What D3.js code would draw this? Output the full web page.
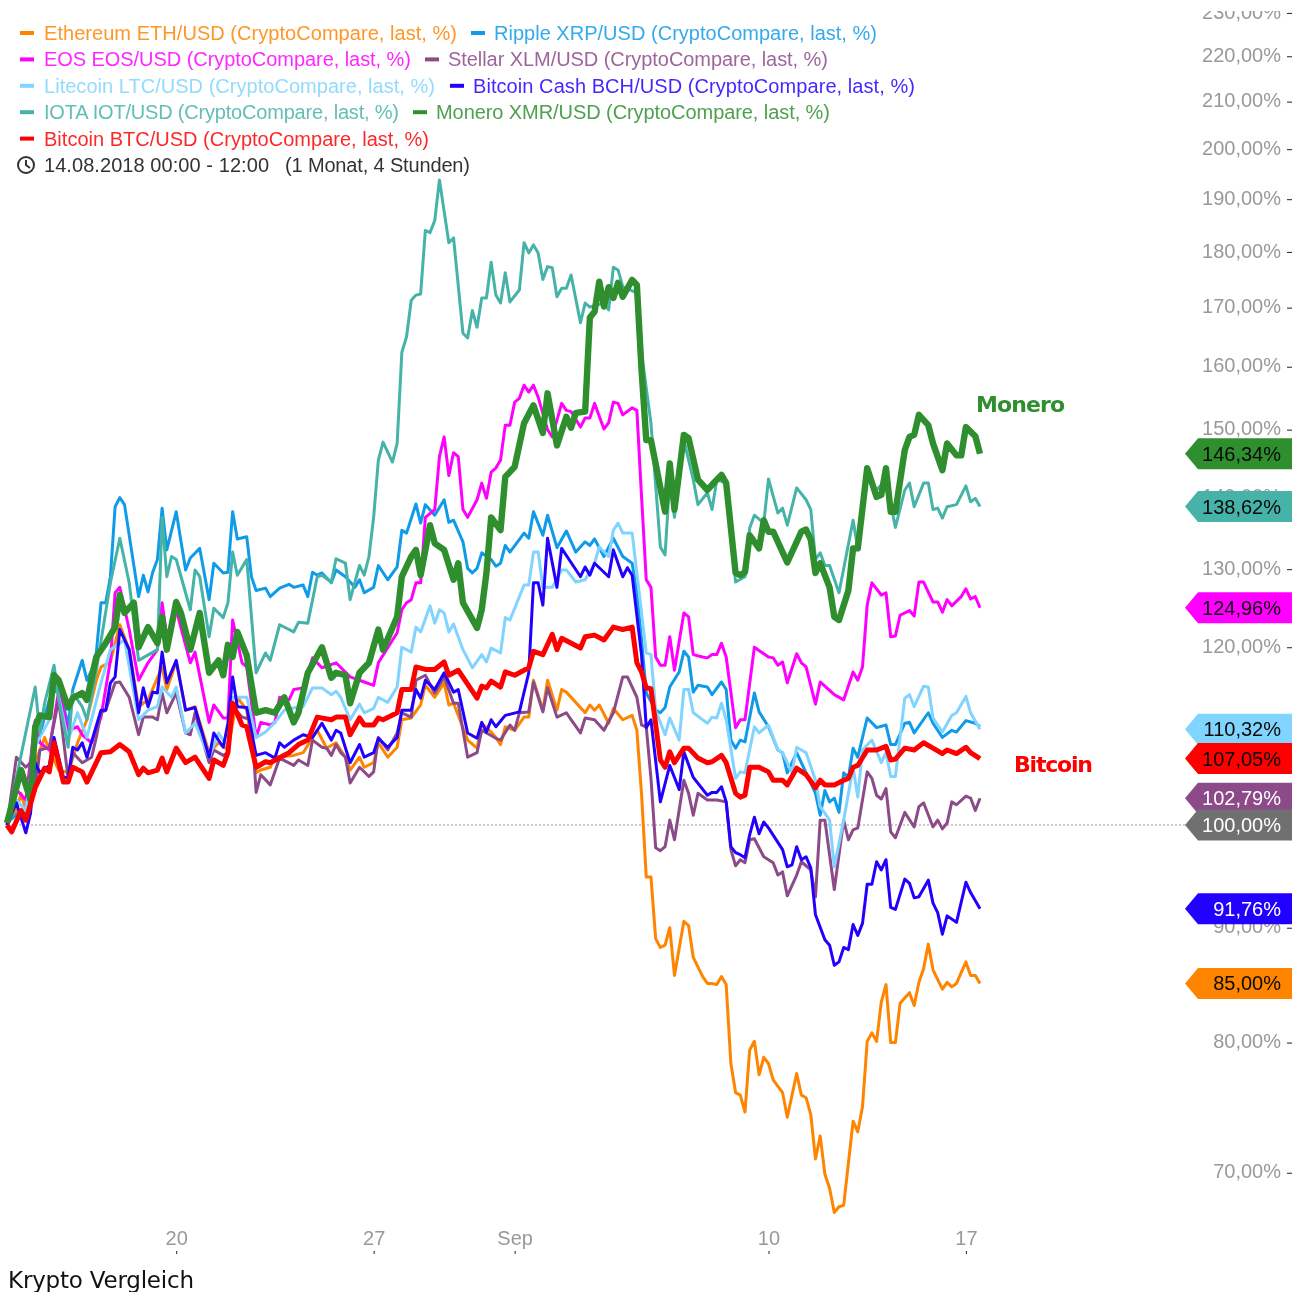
<!DOCTYPE html>
<html>
<head>
<meta charset="utf-8">
<script src="https://cdnjs.cloudflare.com/ajax/libs/d3/7.8.5/d3.min.js"></script>
<style>
  html, body { margin: 0; padding: 0; background: #fff; }
  svg { display: block; font-family: "Liberation Sans", Arial, sans-serif; filter: blur(0.45px); }
</style>
</head>
<body>
<div id="chart"></div>
<script>
// every point is [sample number, percent]; one sample = 4 hours from 14.08.2018 00:00
var ethereum = [[0,100],[2,101.5],[3,103.3],[4,101.5],[6,106.6],[8,109.4],[9,108.0],[11,105.8],[13,105.5],[15,108.8],[17,111.4],[19,116.0],[20,117.6],[22,118.2],[24,122.8],[26,119.7],[28,112.9],[30,113.7],[33,117.6],[34,114.9],[36,118.2],[38,112.5],[40,112.9],[43,107.7],[45,108.8],[47,108.0],[49,114.0],[51,112.5],[53,105.5],[54,105.8],[56,106.1],[57,107.2],[61,107.4],[63,107.7],[66,110.2],[68,108.2],[70,108.8],[72,107.2],[73,105.8],[75,107.2],[76,106.1],[78,106.6],[79,108.8],[81,107.2],[83,108.3],[84,111.4],[86,111.6],[88,113.1],[89,115.4],[91,114.0],[93,115.7],[94,113.1],[95,113.3],[98,109.1],[100,108.2],[101,111.0],[103,110.0],[104,109.4],[105,108.6],[106,110.6],[108,110.2],[110,111.7],[111,111.7],[112,116.0],[114,112.5],[115,116.0],[117,112.5],[118,114.9],[119,114.6],[123,112.2],[124,113.1],[125,112.5],[126,113.1],[128,111.0],[129,112.7],[131,111.4],[133,111.9],[134,110.2],[135,103.2],[136,94.8],[137,94.8],[138,89.0],[139,88.2],[140,88.4],[141,90.0],[142,85.7],[144,90.6],[145,90.2],[146,87.3],[148,85.6],[149,85.0],[150,85.0],[151,84.9],[152,85.6],[153,84.9],[154,78.3],[155,76.0],[156,75.8],[157,74.5],[158,79.4],[159,80.1],[160,77.4],[161,78.8],[162,78.3],[163,77.0],[165,76.0],[166,74.1],[168,77.5],[169,75.8],[170,75.6],[171,74.3],[172,71.0],[173,72.7],[174,69.9],[175,68.9],[176,67.2],[177,67.6],[178,67.7],[180,73.8],[181,73.0],[182,74.9],[183,80.1],[184,80.8],[185,80.1],[186,83.4],[187,84.9],[188,80.0],[189,80.0],[190,83.3],[192,84.2],[193,83.1],[194,85.1],[195,86.3],[196,88.5],[197,86.2],[199,84.5],[200,85.1],[201,84.7],[202,85.0],[204,86.9],[205,85.7],[206,85.7],[207,85.0]];

var ripple = [[0,100.2],[3,101.5],[4,101],[6,110.8],[7,109.7],[9,113.7],[11,115.4],[13,110.8],[14,114.9],[16,118.4],[17,116.0],[18,117.2],[19,119.3],[20,125.6],[21,125.6],[22,129.0],[23,138.6],[24,139.9],[25,138.9],[28,126.4],[29,129.2],[30,127.0],[31,129.6],[32,131.3],[33,138.4],[34,132.6],[36,137.9],[38,129.9],[39,131.5],[41,132.8],[43,126.0],[44,130.8],[46,129.5],[47,129.6],[48,137.9],[49,134.1],[51,134.4],[52,129.0],[53,127.2],[55,127.5],[56,126.4],[58,127.5],[60,128.0],[61,127.6],[63,127.9],[64,126.4],[65,129.6],[66,129.2],[67,129.5],[69,128.2],[70,129.9],[72,129.0],[74,127.6],[75,128.6],[76,126.9],[78,127.6],[79,130.5],[81,128.6],[83,130.3],[84,135.3],[85,134.9],[87,139.0],[88,136.3],[89,138.9],[91,137.4],[93,139.6],[94,136.4],[95,136.7],[97,133.7],[98,130.1],[99,129.5],[100,130.1],[101,132.2],[103,131.3],[104,130.4],[105,130.8],[106,133.2],[107,132.3],[110,134.9],[111,134.2],[112,137.9],[114,134.6],[115,137.4],[117,132.9],[119,135.2],[121,132.3],[123,133.7],[124,133.2],[125,134.1],[127,131.7],[129,134.2],[131,131.7],[133,130.8],[134,126.9],[135,120.9],[136,114.5],[138,112.5],[139,112.2],[140,112.8],[141,115.2],[143,117.0],[144,119.5],[145,118.8],[146,114.6],[147,115.4],[149,115.2],[150,114.3],[152,115.8],[153,114.9],[154,109.1],[155,108.2],[156,109.1],[157,108.9],[159,114.5],[160,112.3],[162,110.6],[164,108.0],[165,107.7],[166,105.5],[168,107.7],[170,105.5],[172,103.3],[173,101.0],[174,103.6],[175,102.4],[176,102.8],[177,101.3],[178,105.5],[179,105.0],[180,108.2],[181,107.2],[183,111.6],[185,110.5],[187,110.8],[188,108.6],[189,108.6],[191,111.0],[192,111.1],[193,109.9],[196,112.2],[197,111.0],[199,109.4],[201,110.2],[202,110.0],[204,111.3],[206,111.0],[207,110.6]];

var eos = [[0,100],[2,103.7],[4,102.6],[6,111.3],[7,108.8],[9,108.0],[11,114.8],[13,110.2],[15,110.6],[16,109.7],[18,108.8],[20,111.7],[22,118.4],[23,126.9],[24,127.6],[26,122.2],[28,116.0],[30,118.1],[32,119.7],[33,125.6],[34,121.3],[36,124.7],[39,118.1],[40,119.4],[43,111.1],[44,113.1],[46,111.6],[47,111.6],[48,123.4],[50,118.1],[51,117.6],[53,109.4],[54,111.1],[56,110.8],[57,111.1],[58,114.0],[60,113.7],[61,114.9],[63,115.1],[65,118.7],[67,117.5],[70,118.1],[73,116.4],[76,115.8],[78,115.4],[79,118.1],[83,121.8],[84,124.7],[85,125.6],[86,126.0],[87,128.2],[88,128.2],[89,137.1],[91,138.2],[92,145.9],[93,148.9],[94,143.1],[95,146.5],[96,145.9],[97,138.2],[98,137.1],[100,139.6],[101,142.0],[102,139.8],[103,143.6],[104,144.2],[105,145.4],[106,150.7],[107,150.7],[108,154.3],[109,154.9],[110,157.0],[111,155.9],[112,157.0],[113,155.1],[115,150.0],[116,148.9],[118,154.1],[119,153.0],[120,152.8],[122,150.4],[123,151.8],[124,151.8],[125,154.1],[127,150.1],[128,151.1],[129,154.3],[130,154.1],[131,152.3],[133,153.4],[134,153.0],[135,140.0],[136,128.6],[137,127.6],[138,118.8],[139,117.8],[140,117.8],[141,121.3],[142,117.2],[144,124.3],[145,123.8],[146,119.1],[148,118.8],[149,118.7],[150,119.1],[151,119.1],[152,120.5],[153,118.8],[155,110.5],[156,111.4],[157,111.4],[159,120.0],[162,118.8],[163,118.7],[164,117.8],[165,118.2],[166,115.7],[168,119.2],[169,118.1],[170,117.6],[172,113.2],[173,115.8],[176,114.3],[178,113.7],[180,117.0],[181,116.0],[182,117.6],[183,125.3],[184,128.2],[186,126.6],[187,126.9],[188,121.3],[189,121.4],[190,124.0],[192,124.6],[193,123.9],[194,128.3],[195,128.3],[197,125.7],[198,125.7],[199,124.4],[200,126.0],[201,125.2],[203,126.4],[204,127.4],[205,126.1],[206,126.4],[207,124.96]];

var stellar = [[0,100],[2,107.2],[4,106.1],[5,106.6],[6,103.6],[7,108.0],[9,108.3],[11,113.7],[13,104.9],[14,107.7],[16,106.6],[18,107.2],[19,109.4],[20,112.2],[21,112.5],[23,115.7],[24,115.8],[26,114.0],[28,109.7],[29,111.7],[31,111.7],[32,111.4],[33,114.5],[34,112.2],[36,114.5],[38,109.9],[39,109.7],[40,112.2],[43,106.6],[44,108.0],[46,107.4],[47,107.7],[48,112.9],[50,111.7],[52,111.4],[53,103.4],[54,105.3],[56,104.2],[58,107.1],[61,106.3],[62,106.9],[64,106.3],[65,109.1],[67,108.3],[68,108.2],[69,107.4],[70,108.6],[71,107.7],[72,107.2],[73,104.4],[75,106.1],[77,105.1],[78,105.6],[79,109.4],[81,108.0],[83,109.9],[84,112.2],[86,111.7],[87,116.0],[89,116.6],[91,114.5],[93,116.4],[95,113.3],[96,113.3],[98,107.2],[100,107.7],[101,110.2],[104,109.3],[105,109.1],[107,110.8],[108,110.2],[109,112.2],[111,112.3],[112,115.8],[114,112.3],[115,115.1],[117,111.7],[119,112.2],[120,111.4],[122,109.9],[123,111.6],[125,111.4],[127,110.2],[129,112.2],[131,116.4],[132,116.4],[134,114.0],[135,110.8],[136,110.6],[137,104.9],[138,97.7],[139,97.4],[140,97.8],[141,100.5],[142,98.5],[144,104.7],[145,103.3],[146,101.0],[147,103.3],[149,102.6],[151,102.6],[153,102.4],[154,97.5],[155,95.9],[156,96.5],[157,96.2],[158,98.5],[159,98.6],[161,96.8],[163,96.2],[164,95.0],[165,95.3],[166,93.0],[168,95.0],[169,96.3],[171,95.5],[172,92.9],[173,100.5],[174,100.5],[176,93.6],[178,100.5],[179,98.5],[180,99.5],[181,99.7],[183,105.6],[184,104.9],[185,103.1],[186,102.7],[187,103.8],[188,99.3],[189,98.7],[191,101.3],[193,99.8],[194,101.9],[195,102.3],[197,99.8],[198,100.5],[199,99.6],[200,100.2],[201,102.4],[202,102.1],[204,103.0],[205,102.8],[206,101.5],[207,102.79]];

var litecoin = [[0,100],[2,102.6],[4,101.5],[6,108.5],[7,109.4],[9,111.4],[10,116.6],[13,109.1],[15,112.2],[17,109.4],[20,115.7],[22,119.7],[25,120.9],[28,111.4],[30,112.5],[32,112.9],[33,115.2],[35,114.0],[36,115.2],[38,109.9],[40,111.0],[43,107.2],[45,109.9],[47,108.3],[48,114.0],[51,114.0],[53,109.4],[55,110.0],[57,111.1],[59,112.5],[62,112.9],[63,112.9],[65,115.1],[67,115.1],[69,114.3],[70,114.7],[71,114.0],[73,111.4],[75,113.2],[76,112.2],[78,112.7],[79,114.0],[81,113.4],[83,115.2],[84,120.0],[86,119.4],[87,122.5],[88,121.9],[90,125.2],[91,123.0],[92,124.7],[93,124.3],[94,121.9],[95,122.9],[97,119.7],[99,117.5],[101,119.1],[102,118.2],[103,119.9],[105,119.3],[106,123.7],[107,123.4],[110,127.9],[111,127.9],[112,132.3],[113,132.3],[114,127.6],[116,127.6],[118,129.9],[119,129.9],[121,128.3],[123,128.6],[125,130.8],[126,133.0],[128,131.7],[129,135.3],[130,136.3],[131,134.9],[133,134.9],[134,129.5],[136,119.3],[137,119.1],[138,112.5],[140,109.7],[141,111.6],[143,109.1],[144,114.9],[145,114.9],[146,112.2],[149,111.0],[150,111.7],[151,111.6],[152,113.3],[153,111.4],[155,104.9],[156,105.6],[157,105.5],[159,110.6],[160,109.9],[162,110.8],[164,108.0],[165,107.7],[167,105.5],[168,108.3],[170,107.7],[172,104.7],[173,101.9],[175,100.5],[176,95.8],[178,100.5],[180,106.1],[181,102.9],[182,108.0],[184,109.1],[186,106.6],[187,107.7],[188,105.1],[189,105.1],[191,113.9],[192,114.3],[193,112.9],[195,115.3],[196,115.2],[197,111.6],[199,110.0],[201,111.9],[202,112.2],[204,114.1],[205,112.2],[207,110.32]];

var bitcoinCash = [[0,100],[2,102.3],[4,99.2],[5,101.2],[6,106.6],[7,105.5],[9,106.3],[10,109.4],[12,105.0],[13,105.0],[14,108.3],[15,108.0],[16,108.8],[17,107.2],[20,112.5],[21,112.5],[22,115.7],[23,116.4],[24,122.2],[26,119.7],[28,112.2],[29,115.1],[30,112.9],[31,114.6],[32,114.5],[33,119.4],[34,115.7],[36,118.4],[38,112.5],[40,112.8],[43,107.2],[44,109.9],[46,108.3],[47,111.0],[48,116.4],[49,112.9],[51,112.8],[53,107.4],[55,107.7],[57,107.1],[58,108.8],[59,108.3],[61,109.1],[63,109.7],[65,109.4],[67,111.0],[69,109.1],[70,110.2],[71,109.9],[73,106.6],[75,108.6],[76,107.2],[78,107.7],[79,109.3],[81,108.3],[83,109.4],[84,112.5],[86,112.5],[87,114.9],[88,113.9],[89,116.0],[91,114.9],[93,116.9],[95,114.6],[96,114.9],[98,109.9],[100,109.3],[101,111.1],[102,110.0],[103,111.4],[104,110.6],[106,111.9],[109,112.3],[111,116.9],[112,128.2],[113,128.2],[114,125.3],[115,134.2],[117,127.6],[118,132.8],[120,130.9],[122,129.0],[123,130.3],[124,129.2],[125,130.8],[128,129.0],[129,132.6],[131,129.0],[132,130.2],[133,129.2],[135,119.0],[136,110.5],[137,111.4],[139,102.4],[141,106.3],[143,103.7],[144,107.8],[146,105.0],[149,103.1],[150,103.4],[151,103.4],[152,104.0],[153,102.4],[154,97.8],[155,97.2],[156,97.0],[157,96.7],[158,99.0],[159,100.8],[160,99.1],[161,100.3],[162,99.7],[165,97.5],[166,95.8],[167,96.0],[168,97.8],[169,96.5],[170,96.8],[171,95.7],[172,91.2],[174,88.9],[175,88.4],[176,86.6],[177,86.9],[178,88.2],[179,88.0],[180,90.3],[181,89.3],[182,90.4],[183,94.1],[184,94.1],[185,96.3],[186,95.5],[187,96.5],[188,91.9],[189,91.7],[191,94.6],[192,94.2],[193,92.8],[194,92.9],[196,94.5],[197,92.3],[198,91.4],[199,89.4],[200,91.1],[202,90.5],[204,94.3],[205,93.3],[207,91.76]];

var iota = [[0,100.2],[6,115.2],[7,109.9],[8,113.3],[10,117.8],[11,113.7],[13,108.3],[14,114.5],[16,112.9],[17,111.4],[19,117.2],[22,128.2],[24,134.2],[26,128.2],[28,118.4],[32,119.7],[33,137.1],[34,129.0],[35,131.7],[36,131.3],[39,124.7],[40,129.9],[41,129.0],[43,121.3],[44,124.9],[46,123.7],[47,125.6],[48,132.3],[49,129.2],[51,131.3],[53,116.9],[55,119.3],[56,118.4],[58,122.8],[61,121.9],[62,123.1],[64,123.0],[66,129.0],[67,129.2],[69,128.3],[70,131.4],[72,130.8],[73,126.0],[75,130.5],[76,129.2],[77,131.7],[78,137.1],[79,145.4],[80,148.1],[82,145.1],[83,147.9],[84,162.4],[85,165.0],[86,171.3],[87,172.2],[88,172.4],[89,184.0],[90,183.6],[91,185.9],[92,193.8],[94,181.7],[95,182.6],[97,165.6],[98,164.8],[99,169.5],[100,166.6],[101,171.7],[102,171.7],[103,178.1],[104,172.2],[105,170.8],[106,176.2],[107,171.0],[109,173.1],[110,181.7],[111,179.8],[112,181.3],[113,179.8],[114,175.0],[115,177.3],[116,177.1],[117,171.9],[118,173.4],[119,173.4],[120,175.8],[122,167.4],[123,170.8],[124,170.1],[127,170.8],[128,169.6],[129,177.2],[130,176.7],[131,173.7],[134,172.6],[135,162.3],[137,151.0],[139,133.0],[140,131.9],[141,142.5],[142,137.1],[144,148.4],[146,142.5],[147,138.9],[149,140.6],[150,138.2],[151,142.5],[153,142.0],[155,128.3],[157,129.0],[158,135.6],[159,137.4],[161,136.3],[162,142.6],[164,137.7],[165,138.4],[166,136.0],[168,141.3],[170,139.6],[171,138.2],[172,131.3],[173,132.2],[174,130.5],[175,130.5],[177,126.9],[180,136.7],[181,132.8],[183,143.2],[185,141.0],[187,142.5],[189,135.7],[191,141.0],[192,142.0],[193,138.6],[195,142.0],[196,142.0],[197,138.2],[198,138.4],[199,137.0],[200,138.6],[202,138.9],[204,141.6],[205,139.3],[206,139.8],[207,138.62]];

var monero = [[0,100.2],[3,105.8],[5,102.6],[6,110.6],[7,111.9],[9,111.7],[10,116.6],[11,116.0],[13,112.8],[14,113.9],[16,114.5],[17,113.7],[19,118.8],[21,120.5],[23,122.5],[24,126.6],[25,124.3],[27,125.6],[28,120.0],[30,122.5],[32,120.5],[33,123.8],[34,119.7],[36,125.7],[37,124.3],[39,119.7],[41,124.3],[43,116.9],[45,118.4],[46,116.6],[47,120.3],[48,118.8],[49,121.9],[51,119.0],[53,112.2],[55,112.5],[57,112.2],[59,114.0],[61,111.1],[62,112.2],[64,116.9],[67,120.0],[69,116.3],[70,116.9],[72,116.6],[73,113.3],[75,116.9],[77,118.1],[79,122.2],[80,119.7],[83,123.8],[84,129.0],[86,131.7],[87,132.6],[88,129.2],[90,136.0],[91,133.5],[93,132.6],[95,128.6],[96,130.8],[97,125.6],[100,122.4],[101,124.7],[102,129.5],[103,137.1],[105,135.3],[106,142.9],[108,144.4],[110,151.0],[112,153.8],[114,149.5],[115,155.7],[117,147.6],[119,152.0],[120,150.3],[121,152.6],[123,152.8],[124,168.3],[125,169.3],[126,174.6],[127,170.2],[128,173.6],[129,171.7],[130,174.4],[131,171.9],[133,174.9],[134,174.0],[135,159.4],[136,148.4],[137,148.4],[140,137.9],[141,144.9],[142,138.2],[144,149.2],[145,148.7],[147,142.5],[149,141.0],[151,142.5],[152,143.2],[153,142.0],[155,129.5],[156,129.2],[157,129.6],[158,134.6],[160,132.8],[161,136.7],[162,135.1],[163,135.1],[166,130.9],[169,135.1],[170,135.4],[171,134.0],[172,129.5],[173,130.8],[175,127.6],[176,123.8],[177,123.4],[179,127.2],[180,132.8],[181,132.8],[183,144.2],[185,140.0],[186,140.3],[187,144.2],[188,137.9],[189,137.9],[191,146.9],[192,148.9],[193,149.2],[194,152.3],[196,150.7],[197,147.9],[199,143.9],[200,147.9],[202,146.1],[203,146.1],[204,150.4],[205,149.7],[206,149.0],[207,146.34]];

var bitcoin = [[0,100],[1,99.3],[3,101.5],[4,100.5],[6,103.9],[8,106.0],[9,105.6],[10,108.8],[12,104.5],[13,104.5],[14,106.1],[16,105.6],[17,104.5],[20,107.7],[22,107.8],[24,108.6],[26,107.8],[28,105.3],[29,106.0],[30,105.5],[32,105.8],[33,107.1],[34,105.6],[36,108.2],[38,106.6],[40,107.2],[43,104.9],[44,106.9],[46,106.3],[47,107.7],[48,113.3],[50,110.8],[51,110.6],[53,106.1],[55,106.7],[56,106.6],[60,107.7],[62,108.6],[64,109.1],[66,111.7],[69,111.4],[70,111.7],[72,111.7],[73,109.7],[75,111.6],[76,110.8],[78,110.8],[79,111.6],[80,111.4],[83,112.2],[84,114.9],[86,114.9],[87,117.6],[89,117.3],[91,117.3],[93,118.2],[94,116.6],[96,117.2],[100,113.9],[101,115.3],[102,115.1],[103,115.9],[105,115.2],[106,117.0],[108,116.6],[110,117.2],[111,117.5],[112,119.5],[114,119.1],[116,121.6],[117,119.7],[118,121.1],[122,119.9],[123,121.3],[125,121.5],[127,120.9],[129,122.5],[131,122.2],[133,122.5],[134,118.1],[135,117.0],[136,115.1],[137,115.0],[139,106.9],[140,106.1],[141,107.8],[142,106.6],[144,108.2],[145,108.2],[147,107.1],[149,106.6],[150,106.7],[152,107.4],[153,106.6],[155,103.3],[156,102.9],[157,103.1],[158,106.1],[160,106.1],[162,105.6],[163,104.7],[165,104.7],[166,104.2],[168,106.0],[170,105.3],[172,103.9],[173,104.7],[174,104.2],[176,104.2],[178,104.7],[179,104.9],[180,106.1],[181,106.3],[183,108.0],[185,108.0],[187,108.4],[188,106.9],[189,107.0],[191,108.2],[193,108.0],[195,108.8],[197,108.2],[199,107.6],[200,108.0],[202,107.6],[204,108.3],[205,107.7],[207,107.05]];

var seriesData = [ethereum, ripple, eos, stellar, litecoin, bitcoinCash, iota, monero, bitcoin];
var seriesNames = ["Ethereum ETH/USD", "Ripple XRP/USD", "EOS EOS/USD", "Stellar XLM/USD", "Litecoin LTC/USD",
                   "Bitcoin Cash BCH/USD", "IOTA IOT/USD", "Monero XMR/USD", "Bitcoin BTC/USD"];
var seriesColors = ["#ff8400", "#0f9be8", "#ff00ff", "#8c4a88", "#80d4ff", "#2200ff", "#46b3a8", "#2f8f2f", "#ff0000"];
var seriesWidths = [3, 3, 3, 3, 3, 3, 3, 6.4, 5];

// value tags at the right edge, one of them is the base line
var tagValues = [146.34, 138.62, 124.96, 110.32, 107.05, 102.79, 100, 91.76, 85];
var tagColors = ["#2f8f2f", "#46b3a8", "#ff00ff", "#80d4ff", "#ff0000", "#8c4a88", "#707070", "#2200ff", "#ff8400"];
var tagText = ["#0a0a0a", "#0a0a0a", "#0a0a0a", "#0a0a0a", "#0a0a0a", "#ffffff", "#ffffff", "#ffffff", "#0a0a0a"];

var yTicks = [70, 80, 90, 100, 120, 130, 140, 150, 160, 170, 180, 190, 200, 210, 220, 230];
var xTickDates = [new Date(Date.UTC(2018, 7, 20)), new Date(Date.UTC(2018, 7, 27)), new Date(Date.UTC(2018, 8, 1)),
                  new Date(Date.UTC(2018, 8, 10)), new Date(Date.UTC(2018, 8, 17))];
var xTickLabels = ["20", "27", "Sep", "10", "17"];

var start = new Date(Date.UTC(2018, 7, 14));
function sampleDate(i) { return d3.utcHour.offset(start, i * 4); }
function percent(v) { return d3.format(".2f")(v).replace(".", ",") + "%"; }

var width = 1305, height = 1292;

var x = d3.scaleUtc()
  .domain([start, sampleDate(207)])
  .range([7, 980]);

// log axis, 100% sits on y=825
var y = d3.scaleLog()
  .domain([70, 230])
  .range([825 + 975 * Math.log(100 / 70), 825 - 975 * Math.log(230 / 100)]);

var svg = d3.select("#chart").append("svg")
  .attr("width", width)
  .attr("height", height);

// y axis
var yAxis = svg.append("g")
  .attr("transform", "translate(1292,0)")
  .call(d3.axisLeft(y).tickValues(yTicks).tickFormat(percent).tickSize(5).tickPadding(6));
yAxis.select(".domain").remove();
yAxis.selectAll("line").attr("stroke", "#222");
yAxis.selectAll("text").attr("fill", "#999").attr("font-size", 20).attr("dy", "0.26em")
  .attr("font-family", "Liberation Sans");

// the top label is cut by the chart edge
svg.append("rect").attr("x", 1190).attr("y", 0).attr("width", 115).attr("height", 11).attr("fill", "#fff");

// x axis
var xAxis = svg.append("g")
  .attr("transform", "translate(0,1254)")
  .call(d3.axisTop(x).tickValues(xTickDates).tickFormat(function(d, i) { return xTickLabels[i]; }).tickSize(3).tickPadding(6));
xAxis.select(".domain").remove();
xAxis.selectAll("line").attr("stroke", "#222");
xAxis.selectAll("text").attr("fill", "#999").attr("font-size", 20).attr("font-family", "Liberation Sans");

// base line
svg.append("line")
  .attr("x1", 7).attr("x2", 1190)
  .attr("y1", y(100)).attr("y2", y(100))
  .attr("stroke", "#999")
  .attr("stroke-dasharray", "2,2");

var line = d3.line()
  .x(function(d) { return x(sampleDate(d[0])); })
  .y(function(d) { return y(d[1]); })
  .curve(d3.curveLinear);

svg.selectAll(".series")
    .data(seriesData)
  .enter().append("path")
    .attr("class", "series")
    .attr("d", line)
    .attr("fill", "none")
    .attr("stroke", function(d, i) { return seriesColors[i]; })
    .attr("stroke-width", function(d, i) { return seriesWidths[i]; })
    .attr("stroke-linejoin", "round");

// tags
var tags = svg.selectAll(".tag")
    .data(tagValues)
  .enter().append("g")
    .attr("class", "tag")
    .attr("transform", function(d) { return "translate(0," + y(d) + ")"; });

tags.append("path")
  .attr("d", "M1185,0L1198,-15.5L1292,-15.5L1292,15.5L1198,15.5Z")
  .attr("fill", function(d, i) { return tagColors[i]; });

tags.append("text")
  .attr("x", 1281)
  .attr("y", 7)
  .attr("text-anchor", "end")
  .attr("font-size", 20)
  .attr("fill", function(d, i) { return tagText[i]; })
  .text(percent);

// legend
var legendText = ", last, %)";
var legendRows = [0, 0, 1, 1, 2, 2, 3, 3, 4];
var legendSwatchX = [20, 471, 20, 425, 20, 450, 20, 413, 20];
var legendTextX = [44, 494, 44, 448, 44, 473, 44, 436, 44];
var legendTextW = [413, 383, 367, 380, 391, 442, 355, 394, 385];

var legend = svg.selectAll(".legend")
    .data(seriesNames)
  .enter().append("g")
    .attr("class", "legend")
    .attr("transform", function(d, i) { return "translate(0," + (33 + legendRows[i] * 26.4) + ")"; });

legend.append("rect")
  .attr("x", function(d, i) { return legendSwatchX[i]; })
  .attr("y", -2)
  .attr("width", 14)
  .attr("height", 4)
  .attr("fill", function(d, i) { return seriesColors[i]; });

legend.append("text")
  .attr("x", function(d, i) { return legendTextX[i]; })
  .attr("y", 7)
  .attr("font-size", 20)
  .attr("textLength", function(d, i) { return legendTextW[i]; })
  .attr("fill", function(d, i) { return seriesColors[i]; })
  .attr("fill-opacity", 0.85)
  .text(function(d) { return d + " (CryptoCompare" + legendText; });

// clock and time range
svg.append("circle").attr("cx", 26).attr("cy", 165).attr("r", 8)
  .attr("fill", "none").attr("stroke", "#333").attr("stroke-width", 2);
svg.append("path").attr("d", "M26,160V165L30,168")
  .attr("fill", "none").attr("stroke", "#333").attr("stroke-width", 2);
svg.append("text").attr("x", 44).attr("y", 172).attr("font-size", 20).attr("fill", "#333")
  .attr("textLength", 225).text("14.08.2018 00:00 - 12:00");
svg.append("text").attr("x", 285).attr("y", 172).attr("font-size", 20).attr("fill", "#333")
  .attr("textLength", 185).text("(1 Monat, 4 Stunden)");

// callouts
svg.append("text").attr("x", 976).attr("y", 412).attr("font-size", 22)
  .attr("font-family", "DejaVu Sans").attr("font-weight", "bold").attr("textLength", 89)
  .attr("fill", "#2f8f2f").text("Monero");
svg.append("text").attr("x", 1014).attr("y", 772).attr("font-size", 22)
  .attr("font-family", "DejaVu Sans").attr("font-weight", "bold").attr("textLength", 79)
  .attr("fill", "#ff0000").text("Bitcoin");

// title
svg.append("text").attr("x", 8).attr("y", 1288).attr("font-size", 23).attr("fill", "#111")
  .attr("font-family", "DejaVu Sans").attr("textLength", 186)
  .text("Krypto Vergleich");
</script>
</body>
</html>
